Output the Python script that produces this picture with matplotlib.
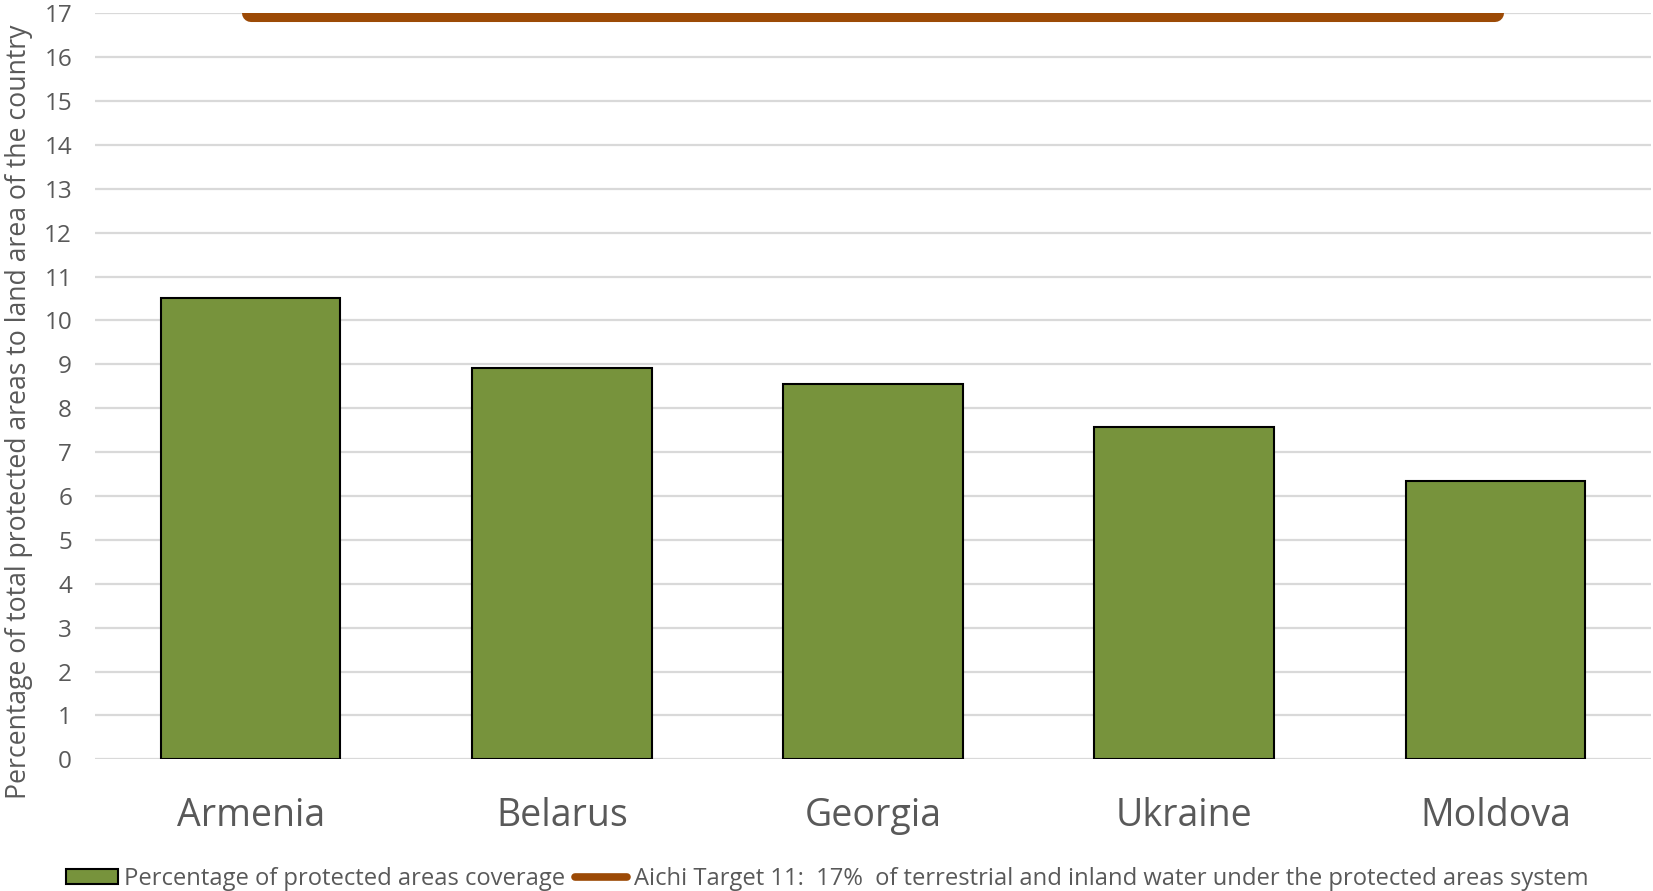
import matplotlib
matplotlib.use("Agg")
import matplotlib.pyplot as plt
from matplotlib.patches import Patch
from matplotlib.lines import Line2D

countries = ["Armenia", "Belarus", "Georgia", "Ukraine", "Moldova"]
coverage = [10.51, 8.92, 8.56, 7.57, 6.35]
target = 17
yticks = list(range(0, 18))
bar_label = "Percentage of protected areas coverage"
line_label = "Aichi Target 11:  17%  of terrestrial and inland water under the protected areas system"
ylabel = "Percentage of total protected areas to land area of the country"

GREEN = "#77933C"
BROWN = "#9C4A06"
GRID = "#D9D9D9"
TEXT = "#595959"

plt.rcParams['font.family'] = ['Open Sans', 'DejaVu Sans']

W, H = 1653, 891
fig = plt.figure(figsize=(W / 100, H / 100), dpi=100)
ax = fig.add_axes([95 / W, 1 - 759.3 / H, (1651 - 95) / W, (759.3 - 13.3) / H])

x = list(range(len(countries)))
ax.bar(x, coverage, width=0.577, color=GREEN, edgecolor="black", linewidth=1.5, zorder=3)
ax.plot([x[0], x[-1]], [target] * 2, color=BROWN, linewidth=13, solid_capstyle='round', zorder=4)

ax.set_xlim(-0.5, len(countries) - 0.5)
ax.set_ylim(0, 17)
ax.set_yticks(yticks)
ax.set_yticklabels([str(t) for t in yticks], fontsize=17.5, color=TEXT)
ax.set_xticks(x)
ax.set_xticklabels(countries, fontsize=27, color=TEXT)
ax.tick_params(axis='both', length=0)
ax.tick_params(axis='y', pad=16.5)
ax.tick_params(axis='x', pad=27.5)
ax.yaxis.grid(True, color=GRID, linewidth=1.6, zorder=0)
ax.set_axisbelow(True)
for s in ax.spines.values():
    s.set_visible(False)

fig.text(19 / W, 1 - 412 / H, ylabel, rotation=90, ha='center', va='center',
         fontsize=19.2, color=TEXT)

handles = [Patch(facecolor=GREEN, edgecolor="black", linewidth=1.5),
           Line2D([0], [0], color=BROWN, linewidth=5.5, solid_capstyle='round')]
fig.legend(handles, [bar_label, line_label], loc='center', bbox_to_anchor=(827 / W, 1 - 879 / H),
           ncol=2, frameon=False, fontsize=17.1, labelcolor=TEXT,
           handlelength=2.2, handletextpad=0.28, columnspacing=0.4, handleheight=0.63,
           borderaxespad=0, borderpad=0)

fig.savefig("out.png", dpi=100)
